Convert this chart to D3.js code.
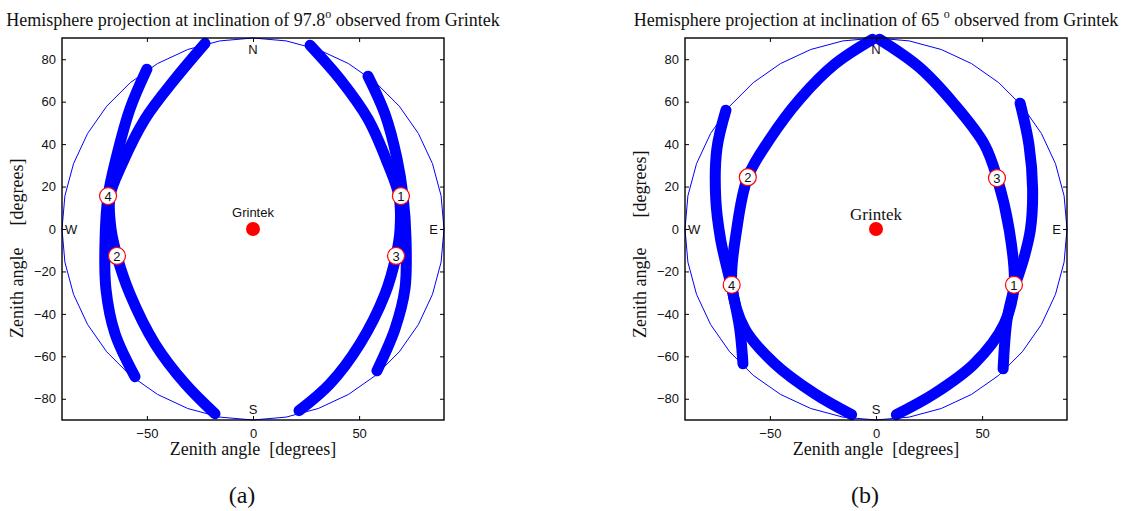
<!DOCTYPE html>
<html>
<head>
<meta charset="utf-8">
<script src="https://cdn.jsdelivr.net/npm/d3@7"></script>
<style>
body { margin: 0; background: #fff; }
text { font-family: "Liberation Sans", Arial, sans-serif; fill: #111; }
.serif { font-family: "Liberation Serif", "Times New Roman", serif; }
</style>
</head>
<body>
<div class="hemi"></div>
<script>
let width = 1123
let height = 511
let plotSize = 382
let plotTop = 38
let panelLeft = [62, 685]
let yLabelGap = [22, 30]

let titleText = [["Hemisphere projection at inclination of 97.8", " observed from Grintek"],
                 ["Hemisphere projection at inclination of 65 ", " observed from Grintek"]]
let panelTags = ["(a)", "(b)"]
let xTicks = [-50, 0, 50]
let yTicks = [-80, -60, -40, -20, 0, 20, 40, 60, 80]
let horizonRadius = 90

// satellite passes in [east, north] zenith-angle degrees
let tracksA = [
    [[-50, 75.3], [-58, 56.5], [-64.6, 32.9], [-68.3, 15.5], [-69.7, -4.7], [-69.3, -28.2], [-65, -49.4], [-55.6, -69.6]],
    [[-22.6, 87.5], [-36.8, 70.6], [-50.9, 51.8], [-61.7, 30.6], [-67.4, 15.5], [-66.9, 0], [-64.1, -12.7], [-58, -30.6], [-46.2, -54.1], [-32, -72.9], [-17.9, -87.1]],
    [[26.9, 86.6], [41, 70.6], [54.2, 51.8], [63.6, 30.6], [68.8, 15.5], [69.3, 0], [67.4, -12.7], [62.2, -30.6], [50.4, -54.1], [36.3, -72.9], [21.7, -85.6]],
    [[54.2, 72], [62.2, 54.1], [67.9, 32.9], [70.7, 15.5], [72.1, -4.7], [71.6, -28.2], [66.9, -47.1], [58.4, -66.8]]
]
let tracksB = [
    [[-70.7, 56], [-75, 37.6], [-75.5, 14.1], [-73.2, -5], [-67.9, -28.2], [-64.2, -47.1], [-62.7, -63.5]],
    [[-1.6, 89.4], [-19.5, 77.6], [-35.9, 61.2], [-50, 42.4], [-60.4, 24.5], [-65.6, 0], [-67.9, -26.4], [-61.8, -47.1], [-47.7, -63.5], [-28.9, -77.6], [-11.5, -87.5]],
    [[1.6, 89.4], [20.4, 76.2], [36.9, 58.8], [51, 40], [57.1, 24], [62.7, 0], [65.1, -26.4], [60.4, -44.7], [46.3, -63.5], [27.5, -77.6], [9.6, -87.5]],
    [[67.9, 59.3], [72.1, 39.5], [73.8, 18.8], [72.8, 0], [69.6, -14.1], [65.1, -28.2], [61.8, -42.4], [59.9, -65.9]]
]

let markerLabels = [1, 2, 3, 4]
let markersA = [[69.7, 15.5], [-64.1, -12.7], [67.4, -12.7], [-68.3, 15.5]]
let markersB = [[65, -26.3], [-60.4, 24.4], [57, 24], [-68, -26.3]]

let compassNames = ["N", "S", "E", "W"]
let stationName = "Grintek"

let panels = [
    { tracks: tracksA, markers: markersA, serifStation: false },
    { tracks: tracksB, markers: markersB, serifStation: true }
]

const svg = d3.select(".hemi").append("svg")
    .attr("width", width)
    .attr("height", height)

panels.forEach((p, i) => {
    let left = panelLeft[i]
    let x = d3.scaleLinear().domain([-90, 90]).range([left, left + plotSize])
    let y = d3.scaleLinear().domain([-90, 90]).range([plotTop + plotSize, plotTop])
    let g = svg.append("g")

    let line = d3.line()
        .x(d => x(d[0]))
        .y(d => y(d[1]))
        .curve(d3.curveCatmullRom)

    // horizon circle, coarse polygon like the original
    let ring = d3.range(0, 361, 10).map(a => [horizonRadius * Math.cos(a * Math.PI / 180), horizonRadius * Math.sin(a * Math.PI / 180)])
    g.append("path")
        .attr("d", d3.line().x(d => x(d[0])).y(d => y(d[1]))(ring))
        .attr("fill", "none")
        .attr("stroke", "#0000ff")
        .attr("stroke-width", 1)

    // passes
    g.selectAll(".track")
        .data(p.tracks)
        .join("path")
        .attr("class", "track")
        .attr("d", line)
        .attr("fill", "none")
        .attr("stroke", "#0000ff")
        .attr("stroke-width", 11)
        .attr("stroke-linecap", "round")
        .attr("stroke-linejoin", "round")

    // axes, ticks inside on all four sides
    let axB = d3.axisBottom(x).tickValues(xTicks).tickSizeInner(-4).tickSizeOuter(0).tickPadding(9)
    let axT = d3.axisTop(x).tickValues(xTicks).tickSizeInner(-4).tickSizeOuter(0).tickFormat("")
    let axL = d3.axisLeft(y).tickValues(yTicks).tickSizeInner(-4).tickSizeOuter(0).tickPadding(6)
    let axR = d3.axisRight(y).tickValues(yTicks).tickSizeInner(-4).tickSizeOuter(0).tickFormat("")

    let axes = [
        [axB, `translate(0,${plotTop + plotSize})`],
        [axT, `translate(0,${plotTop})`],
        [axL, `translate(${left},0)`],
        [axR, `translate(${left + plotSize},0)`]
    ]
    axes.forEach(([ax, tr]) => {
        let a = g.append("g").attr("transform", tr).call(ax)
        a.select(".domain").remove()
        a.selectAll("line").attr("stroke", "#000")
        a.selectAll("text").attr("font-size", 13).attr("fill", "#111")
            .attr("font-family", "'Liberation Sans', Arial, sans-serif")
    })

    g.append("rect")
        .attr("x", left).attr("y", plotTop)
        .attr("width", plotSize).attr("height", plotSize)
        .attr("fill", "none")
        .attr("stroke", "#000")
        .attr("stroke-width", 1.4)

    // compass letters
    let cs = g.append("g").attr("font-size", 13)
    cs.append("text").attr("x", x(0)).attr("y", y(90) + 16).attr("text-anchor", "middle").text(compassNames[0])
    cs.append("text").attr("x", x(0)).attr("y", y(-90) - 6).attr("text-anchor", "middle").text(compassNames[1])
    cs.append("text").attr("x", x(90) - 6).attr("y", y(0) + 5).attr("text-anchor", "end").text(compassNames[2])
    cs.append("text").attr("x", x(-90) + 3).attr("y", y(0) + 5).attr("text-anchor", "start").text(compassNames[3])

    // station
    g.append("circle")
        .attr("cx", x(0)).attr("cy", y(0)).attr("r", 7)
        .attr("fill", "#ff0000")
    g.append("text")
        .attr("class", p.serifStation ? "serif" : null)
        .attr("x", x(0))
        .attr("y", y(0) - (p.serifStation ? 9 : 12))
        .attr("text-anchor", "middle")
        .attr("font-size", p.serifStation ? 17 : 13)
        .text(stationName)

    // numbered positions
    let mk = g.selectAll(".mk")
        .data(p.markers)
        .join("g")
        .attr("class", "mk")
        .attr("transform", d => `translate(${x(d[0])},${y(d[1])})`)
    mk.append("circle")
        .attr("r", 8.5)
        .attr("fill", "#fff")
        .attr("stroke", "#ff0000")
        .attr("stroke-width", 1.2)
    mk.append("text")
        .attr("text-anchor", "middle")
        .attr("dy", "0.36em")
        .attr("font-size", 13)
        .text((d, k) => markerLabels[k])

    // title
    let t = g.append("text")
        .attr("class", "serif")
        .attr("x", x(0))
        .attr("y", 26)
        .attr("text-anchor", "middle")
        .attr("font-size", 18)
    t.append("tspan").text(titleText[i][0])
    t.append("tspan").attr("font-size", 12).attr("dy", -8).text("o")
    t.append("tspan").attr("dy", 8).text(titleText[i][1])

    // axis labels
    let xl = g.append("text")
        .attr("class", "serif")
        .attr("x", x(0))
        .attr("y", 455)
        .attr("text-anchor", "middle")
        .attr("font-size", 18)
    xl.append("tspan").text("Zenith angle")
    xl.append("tspan").attr("dx", 9).text("[degrees]")

    let yl = g.append("text")
        .attr("class", "serif")
        .attr("transform", `translate(${left - 39},338) rotate(-90)`)
        .attr("text-anchor", "start")
        .attr("font-size", 18)
    yl.append("tspan").text("Zenith angle")
    yl.append("tspan").attr("dx", yLabelGap[i]).text("[degrees]")

    g.append("text")
        .attr("class", "serif")
        .attr("x", x(0) - 11)
        .attr("y", 503)
        .attr("text-anchor", "middle")
        .attr("font-size", 24)
        .text(panelTags[i])
})
</script>
</body>
</html>
